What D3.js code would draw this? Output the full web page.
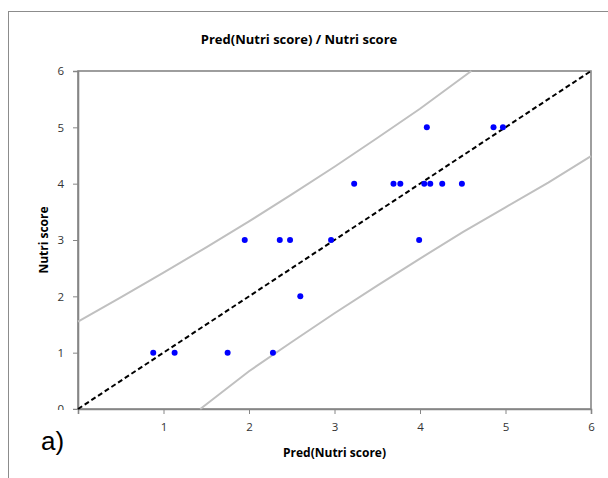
<!DOCTYPE html>
<html>
<head>
<meta charset="utf-8">
<script src="https://cdnjs.cloudflare.com/ajax/libs/d3/7.8.5/d3.min.js"></script>
<style>
    body { margin: 0; background: #fff; }
    .tick text { font-family: "Open Sans", "Liberation Sans", sans-serif; font-size: 11.5px; fill: #333; }
    .axis-title { font-family: "Open Sans", "Liberation Sans", sans-serif; font-weight: bold; font-size: 12px; fill: #000; }
</style>
</head>
<body>
<div class="chart"></div>
<script>
// DATA //
var predScore = [0.88, 1.13, 1.75, 2.28, 2.60, 1.95, 2.36, 2.48, 2.96, 3.99,
    3.23, 3.69, 3.77, 4.05, 4.12, 4.26, 4.49, 4.08, 4.86, 4.97];
var nutriScore = [1, 1, 1, 1, 2, 3, 3, 3, 3, 3,
    4, 4, 4, 4, 4, 4, 4, 5, 5, 5];

var diagX = [0, 6];
var diagY = [0, 6];

var upperX = [0, 0.5, 1, 1.5, 2, 2.5, 3, 3.5, 4, 4.6];
var upperY = [1.55, 1.98, 2.42, 2.87, 3.33, 3.81, 4.30, 4.81, 5.33, 6];

var lowerX = [1.43, 2, 2.5, 3, 3.5, 4, 4.5, 5, 5.5, 6];
var lowerY = [0, 0.67, 1.19, 1.70, 2.19, 2.67, 3.14, 3.58, 4.02, 4.49];

var xTicks = [1, 2, 3, 4, 5, 6];
var yTicks = [0, 1, 2, 3, 4, 5, 6];

var titleText = 'Pred(Nutri score) / Nutri score';
var xTitle = 'Pred(Nutri score)';
var yTitle = 'Nutri score';

// LAYOUT //
var width = 608,
    height = 478,
    plot = { left: 78, top: 71, right: 591, bottom: 409 };

var svg = d3.select('.chart').append('svg')
    .attr('width', width)
    .attr('height', height);

// outer chart frame (runs off the right and bottom)
svg.append('rect')
    .attr('x', 8.5).attr('y', 11.5)
    .attr('width', 700).attr('height', 600)
    .attr('fill', 'none')
    .attr('stroke', '#8c8c8c')
    .attr('stroke-width', 1);

var xScale = d3.scaleLinear().domain([0, 6]).range([plot.left, plot.right]);
var yScale = d3.scaleLinear().domain([0, 6]).range([plot.bottom, plot.top]);

// plot area border
svg.append('rect')
    .attr('x', plot.left).attr('y', plot.top)
    .attr('width', plot.right - plot.left)
    .attr('height', plot.bottom - plot.top)
    .attr('fill', 'none')
    .attr('stroke', '#868686')
    .attr('stroke-width', 1.6);

// AXES //
var xAxis = svg.append('g')
    .attr('transform', 'translate(0,' + plot.bottom + ')')
    .call(d3.axisBottom(xScale).tickValues(xTicks).tickSize(5).tickPadding(9).tickFormat(d3.format('d')));

// the "0" label of the y axis is cut by the x axis line, as in the original
svg.append('clipPath').attr('id', 'yclip')
    .append('rect').attr('x', -80).attr('y', 0).attr('width', 82).attr('height', plot.bottom + 1);

var yAxis = svg.append('g')
    .attr('clip-path', 'url(#yclip)')
    .attr('transform', 'translate(' + plot.left + ',0)')
    .call(d3.axisLeft(yScale).tickValues(yTicks).tickSize(5).tickPadding(9).tickFormat(d3.format('d')));

[xAxis, yAxis].forEach(function(a) {
    a.select('.domain').attr('stroke', '#868686').attr('stroke-width', 1.6);
    a.selectAll('.tick line').attr('stroke', '#868686').attr('stroke-width', 1);
});

// LINES //
var line = d3.line()
    .x(function(d) { return xScale(d[0]); })
    .y(function(d) { return yScale(d[1]); });

svg.append('path')
    .datum(upperX.map(function(x, i) { return [x, upperY[i]]; }))
    .attr('fill', 'none')
    .attr('stroke', '#c0c0c0')
    .attr('stroke-width', 2)
    .attr('d', line);

svg.append('path')
    .datum(lowerX.map(function(x, i) { return [x, lowerY[i]]; }))
    .attr('fill', 'none')
    .attr('stroke', '#c0c0c0')
    .attr('stroke-width', 2)
    .attr('d', line);

svg.append('path')
    .datum(diagX.map(function(x, i) { return [x, diagY[i]]; }))
    .attr('fill', 'none')
    .attr('stroke', '#000')
    .attr('stroke-width', 2)
    .attr('stroke-dasharray', '5,3')
    .attr('d', line);

// POINTS //
svg.selectAll('circle.pt')
    .data(predScore.map(function(x, i) { return [x, nutriScore[i]]; }))
    .enter().append('circle')
    .attr('class', 'pt')
    .attr('cx', function(d) { return xScale(d[0]); })
    .attr('cy', function(d) { return yScale(d[1]); })
    .attr('r', 3)
    .attr('fill', '#0000ff');

// TITLES //
svg.append('text')
    .attr('class', 'axis-title')
    .attr('x', 299).attr('y', 44)
    .attr('text-anchor', 'middle')
    .style('font-size', '13px')
    .text(titleText);

svg.append('text')
    .attr('class', 'axis-title')
    .attr('x', (plot.left + plot.right) / 2).attr('y', 457)
    .attr('text-anchor', 'middle')
    .text(xTitle);

svg.append('text')
    .attr('class', 'axis-title')
    .attr('transform', 'translate(48,' + (plot.top + plot.bottom) / 2 + ') rotate(-90)')
    .attr('text-anchor', 'middle')
    .text(yTitle);

svg.append('text')
    .attr('x', 41).attr('y', 450)
    .style('font-family', '"Liberation Sans", Arial, sans-serif')
    .style('font-size', '26px')
    .attr('fill', '#000')
    .text('a)');
</script>
</body>
</html>
